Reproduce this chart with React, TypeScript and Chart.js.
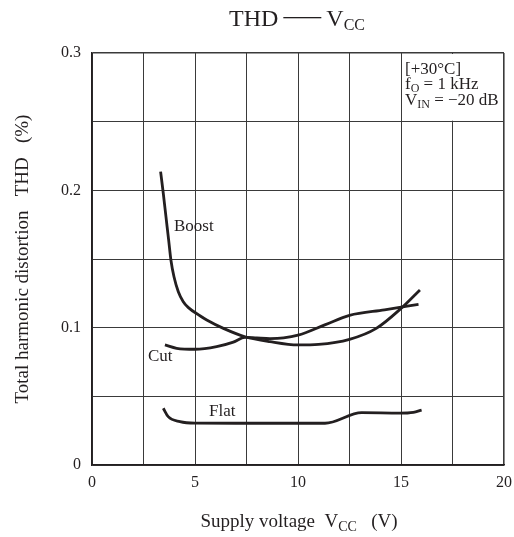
import React, { useEffect, useRef } from 'react';
import { Chart, registerables } from 'chart.js';

Chart.register(...registerables);

const FONT = '"Liberation Serif", "Times New Roman", serif';
const INK = '#231f20';
const GRID = '#3a3a3a';

// Supply voltage (V) and THD (%)
const boostV = [3.33, 3.46, 3.59, 3.72, 3.83, 3.98, 4.19, 4.43, 4.68, 5.24, 5.57, 6.38, 7.43, 8.64, 10.0, 11.0, 12.5, 13.8, 15.0, 15.92];
const boostT = [0.2136, 0.1979, 0.1808, 0.1639, 0.1493, 0.1371, 0.1262, 0.1189, 0.1146, 0.1087, 0.1056, 0.0995, 0.0934, 0.0898, 0.0874, 0.0878, 0.0915, 0.0995, 0.114, 0.1275];

const cutV = [3.54, 4.11, 5.0, 6.05, 6.86, 7.43, 8.0, 8.64, 9.3, 10.0, 11.3, 12.5, 14.2, 15.85];
const cutT = [0.0874, 0.085, 0.0843, 0.0862, 0.0895, 0.093, 0.0925, 0.092, 0.0925, 0.0945, 0.102, 0.109, 0.113, 0.117];

const flatV = [3.46, 3.7, 4.27, 5.0, 7.5, 11.31, 13.09, 14.95, 15.6, 16.0];
const flatT = [0.0413, 0.0352, 0.0316, 0.0305, 0.0304, 0.0304, 0.0381, 0.0378, 0.0384, 0.040];

const curveLabels = ['Boost', 'Cut', 'Flat'];
const labelV = [3.98, 2.72, 5.68];
const labelT = [0.174, 0.0787, 0.0388];

const xGrid = [0, 2.5, 5, 7.5, 10, 12.5, 15, 17.5, 20];
const yGrid = [0, 0.05, 0.1, 0.15, 0.2, 0.25, 0.3];
const xTickLabels = [0, 5, 10, 15, 20];
const yTickLabels = [0, 0.1, 0.2, 0.3];

type Part = { t: string; sub?: boolean };

function drawRich(ctx: CanvasRenderingContext2D, parts: Part[], x: number, y: number, size: number, align: 'left' | 'center', subSize = size * 0.72, subDrop = size * 0.2) {
  const widths = parts.map((p) => {
    ctx.font = `${p.sub ? subSize : size}px ${FONT}`;
    return ctx.measureText(p.t).width;
  });
  const total = widths.reduce((a, b) => a + b, 0);
  let cx = align === 'center' ? x - total / 2 : x;
  ctx.textAlign = 'left';
  ctx.textBaseline = 'alphabetic';
  parts.forEach((p, i) => {
    ctx.font = `${p.sub ? subSize : size}px ${FONT}`;
    ctx.fillText(p.t, cx, p.sub ? y + subDrop : y);
    cx += widths[i];
  });
}

function drawTitle(ctx: CanvasRenderingContext2D, cx: number, y: number) {
  const size = 24;
  const sub = 16;
  ctx.font = `${size}px ${FONT}`;
  const w1 = ctx.measureText('THD').width;
  const wV = ctx.measureText('V').width;
  ctx.font = `${sub}px ${FONT}`;
  const wC = ctx.measureText('CC').width;
  const gap = 5;
  const dash = 38;
  const total = w1 + gap + dash + gap + wV + wC;
  let x = cx - total / 2;
  ctx.textAlign = 'left';
  ctx.textBaseline = 'alphabetic';
  ctx.font = `${size}px ${FONT}`;
  ctx.fillText('THD', x, y);
  x += w1 + gap;
  ctx.fillRect(x, y - 9, dash, 1.3);
  x += dash + gap;
  ctx.fillText('V', x, y);
  x += wV;
  ctx.font = `${sub}px ${FONT}`;
  ctx.fillText('CC', x, y + 4);
}

const toPts = (xs: number[], ys: number[]) => xs.map((x, i) => ({ x, y: ys[i] }));

const decorPlugin = {
  id: 'decor',
  beforeDatasetsDraw(chart: any) {
    const { ctx, chartArea, scales } = chart;
    const left = scales.x.getPixelForValue(15) + 1;
    const bottom = scales.y.getPixelForValue(0.25) - 1;
    ctx.save();
    ctx.fillStyle = '#ffffff';
    ctx.fillRect(left, chartArea.top + 1, chartArea.right - 1 - left, bottom - chartArea.top - 1);
    ctx.restore();
  },
  afterDraw(chart: any) {
    const { ctx, chartArea, scales } = chart;
    const cx = (chartArea.left + chartArea.right) / 2;
    ctx.save();
    ctx.fillStyle = INK;
    drawTitle(ctx, cx - 1, 26);
    // x title
    drawRich(ctx, [{ t: 'Supply voltage  V' }, { t: 'CC', sub: true }, { t: '   (V)' }], cx + 1, 527, 19, 'center', 14, 4);
    // y title
    ctx.save();
    ctx.translate(28, (chartArea.top + chartArea.bottom) / 2);
    ctx.rotate(-Math.PI / 2);
    drawRich(ctx, [{ t: 'Total harmonic distortion   THD   (%)' }], 0, 0, 19, 'center');
    ctx.restore();
    // conditions box
    const bx = scales.x.getPixelForValue(15) + 4;
    drawRich(ctx, [{ t: '[+30\u00B0C]' }], bx, 74, 17, 'left');
    drawRich(ctx, [{ t: 'f' }, { t: 'O', sub: true }, { t: ' = 1 kHz' }], bx, 89, 17, 'left', 12, 3);
    drawRich(ctx, [{ t: 'V' }, { t: 'IN', sub: true }, { t: ' = \u221220 dB' }], bx, 105, 17, 'left', 12, 3);
    // curve labels
    ctx.font = `17px ${FONT}`;
    ctx.textAlign = 'left';
    ctx.textBaseline = 'middle';
    curveLabels.forEach((l, i) => {
      ctx.fillText(l, scales.x.getPixelForValue(labelV[i]), scales.y.getPixelForValue(labelT[i]));
    });
    ctx.restore();
  },
};

export default function App() {
  const ref = useRef<HTMLCanvasElement | null>(null);
  useEffect(() => {
    if (!ref.current) return;
    const lineDs = (label: string, data: any) => ({
      label,
      data,
      borderColor: INK,
      borderWidth: 2.8,
      pointRadius: 0,
      fill: false,
      cubicInterpolationMode: 'monotone' as const,
      tension: 0.4,
    });
    const chart = new Chart(ref.current, {
      type: 'line',
      data: {
        datasets: [
          lineDs('Boost', toPts(boostV, boostT)),
          lineDs('Cut', toPts(cutV, cutT)),
          lineDs('Flat', toPts(flatV, flatT)),
        ],
      },
      options: {
        animation: false,
        responsive: false,
        maintainAspectRatio: false,
        layout: { padding: { top: 53, right: 10, left: 0, bottom: 0 } },
        plugins: { legend: { display: false }, tooltip: { enabled: false }, title: { display: false } },
        scales: {
          x: {
            type: 'linear',
            min: 0,
            max: 20,
            afterBuildTicks: (ax: any) => {
              ax.ticks = xGrid.map((v) => ({ value: v }));
            },
            afterFit: (s: any) => {
              s.height = 72;
              s.paddingLeft = 0;
              s.paddingRight = 0;
            },
            ticks: {
              autoSkip: false,
              maxRotation: 0,
              padding: 8,
              color: INK,
              font: { family: FONT, size: 16 },
              callback: (v: any) => (xTickLabels.includes(Number(v)) ? String(v) : ''),
            },
            grid: {
              color: GRID,
              lineWidth: (c: any) => (c.tick && c.tick.value === 20 ? 1.6 : 1),
              drawTicks: false,
            },
            border: { display: true, color: INK, width: 1.6 },
          },
          y: {
            type: 'linear',
            min: 0,
            max: 0.3,
            afterBuildTicks: (ax: any) => {
              ax.ticks = yGrid.map((v) => ({ value: v }));
            },
            afterFit: (s: any) => {
              s.width = 92;
              s.paddingTop = 0;
              s.paddingBottom = 0;
            },
            ticks: {
              autoSkip: false,
              padding: 11,
              color: INK,
              font: { family: FONT, size: 16 },
              callback: (v: any) => (yTickLabels.includes(Number(v)) ? (Number(v) === 0 ? '0' : Number(v).toFixed(1)) : ''),
            },
            grid: {
              color: GRID,
              lineWidth: (c: any) => (c.tick && c.tick.value === 0.3 ? 1.6 : 1),
              drawTicks: false,
            },
            border: { display: true, color: INK, width: 1.6 },
          },
        },
      } as any,
      plugins: [decorPlugin],
    });
    return () => chart.destroy();
  }, []);
  return (
    <div style={{ position: 'fixed', left: 0, top: 0, width: 514, height: 537, background: '#fff' }}>
      <canvas ref={ref} width={514} height={537} style={{ width: 514, height: 537 }} />
    </div>
  );
}
